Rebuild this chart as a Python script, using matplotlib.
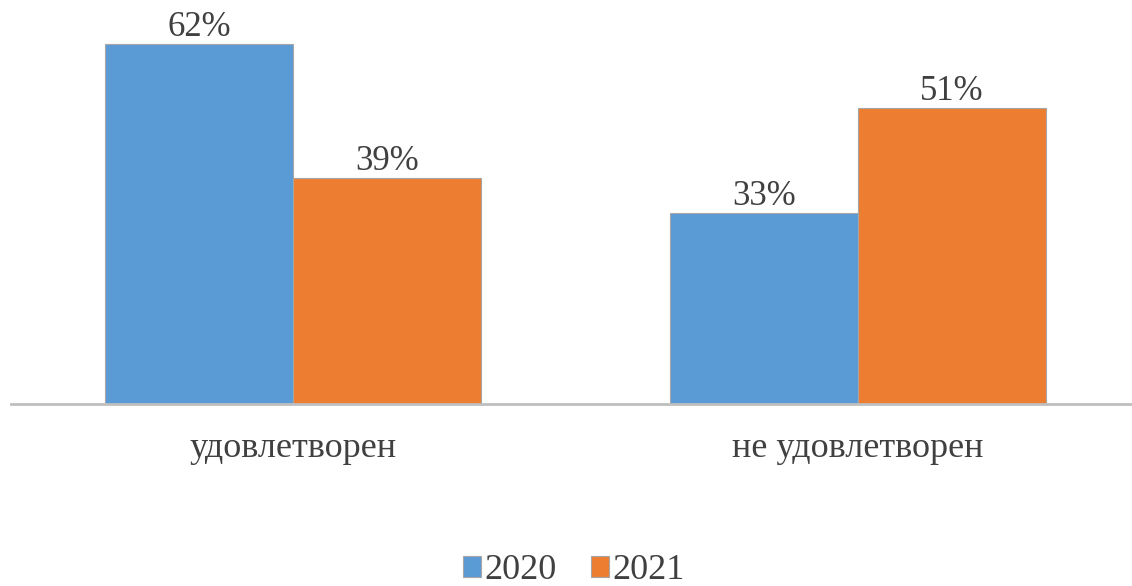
import numpy as np
import matplotlib
matplotlib.use("Agg")
import matplotlib.pyplot as plt

categories = ["удовлетворен", "не удовлетворен"]
years = ["2020", "2021"]
values_2020 = [62, 33]
values_2021 = [39, 51]

colors = ["#5B9BD5", "#ED7D31"]
text_color = "#404040"

plt.rcParams["font.family"] = ["Liberation Serif", "DejaVu Serif"]

W, H = 1132, 586
fig = plt.figure(figsize=(W / 100, H / 100), dpi=100)
# axes placed in pixel terms of the reference picture
ax = fig.add_axes([10.5 / W, 182 / H, 1130 / W, 68 * 5.8 / H])

x = np.arange(len(categories))
width = 0.333
b1 = ax.bar(x - width / 2, values_2020, width, color=colors[0],
            edgecolor="#A6A6A6", linewidth=0.8, label=years[0])
b2 = ax.bar(x + width / 2, values_2021, width, color=colors[1],
            edgecolor="#A6A6A6", linewidth=0.8, label=years[1])

for bars in (b1, b2):
    ax.bar_label(bars, fmt="%d%%", padding=0, fontsize=25, color=text_color)

ax.set_xlim(-0.5, 1.5)
ax.set_ylim(0, 68)
ax.set_yticks([])
ax.set_xticks(x)
ax.set_xticklabels(categories, fontsize=26, color=text_color)
ax.tick_params(axis="x", length=0, pad=20)
for s in ("top", "right", "left"):
    ax.spines[s].set_visible(False)
ax.spines["bottom"].set_color("#BFBFBF")
ax.spines["bottom"].set_linewidth(2)

fig.legend(loc="lower center", bbox_to_anchor=(0.507, -0.058), ncol=2,
           frameon=False, fontsize=26, handlelength=0.5, handleheight=0.5,
           handletextpad=0.1, columnspacing=0.95, labelcolor=text_color)

fig.savefig("out.png", dpi=100)
